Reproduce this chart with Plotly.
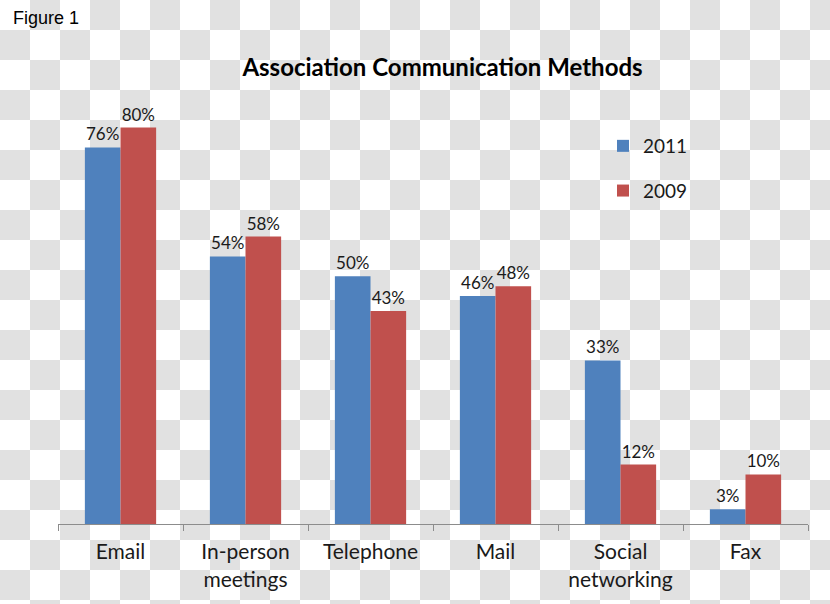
import plotly.graph_objects as go

categories = ["Email", "In-person<br>meetings", "Telephone", "Mail", "Social<br>networking", "Fax"]
values_2011 = [76, 54, 50, 46, 33, 3]
values_2009 = [80, 58, 43, 48, 12, 10]
series_names = ["2011", "2009"]
colors = ["#4F81BD", "#C0504D"]

FONT = "Lato, Carlito, 'Open Sans', sans-serif"
TXT = "#1a1a1a"

fig = go.Figure()
for name, vals, col, grp in zip(series_names, [values_2011, values_2009], colors, ["a", "b"]):
    fig.add_trace(go.Bar(
        x=categories, y=vals, name=name, legendgroup=grp,
        marker=dict(color=col, line=dict(width=0)),
        texttemplate="%{y}%", textposition="outside",
        textfont=dict(family=FONT, size=17, color=TXT),
        cliponaxis=False,
    ))

W, H = 830, 604
L, R, T, B = 58, 22, 78, 80

fig.update_layout(
    width=W, height=H,
    margin=dict(l=L, r=R, t=T, b=B, pad=0),
    paper_bgcolor="rgba(0,0,0,0)",
    plot_bgcolor="rgba(0,0,0,0)",
    barmode="group", bargap=0.43, bargroupgap=0,
    font=dict(family=FONT, color=TXT),
    title=dict(text="<b>Association Communication Methods</b>",
               font=dict(family=FONT, size=24, color="#000000"),
               x=(442.5 - L) / (W - L - R), xref="paper", xanchor="center",
               y=1 - 68 / H, yref="container", yanchor="middle"),
    legend=dict(x=(603 - L) / (W - L - R), y=(524 - 127) / (H - T - B),
                xanchor="left", yanchor="top",
                font=dict(family=FONT, size=19, color=TXT),
                tracegroupgap=17, bgcolor="rgba(0,0,0,0)"),
    xaxis=dict(showline=True, linecolor="#8c8c8c", linewidth=1,
               ticks="outside", tickson="boundaries", ticklen=6, tickcolor="#8c8c8c",
               tickfont=dict(family=FONT, size=21, color=TXT),
               ticklabelstandoff=9, showgrid=False, zeroline=False),
    yaxis=dict(visible=False, range=[0, 90], showgrid=False, zeroline=False),
    showlegend=True,
)

fig.add_annotation(text="Figure 1", xref="paper", yref="paper",
                   x=(11 - L) / (W - L - R), y=(524 - 18) / (H - T - B),
                   xanchor="left", yanchor="middle", showarrow=False,
                   font=dict(family="'Liberation Sans', Arial, sans-serif", size=18, color="#000000"))

post = ("document.body.style.margin='0';"
        "document.documentElement.style.background='repeating-conic-gradient(#e1e1e1 0 25%, #ffffff 0 50%) 0 0 / 60px 60px';"
        "document.body.style.background='transparent';")

fig.write_html("out.html", post_script=post, config={"displayModeBar": False})
